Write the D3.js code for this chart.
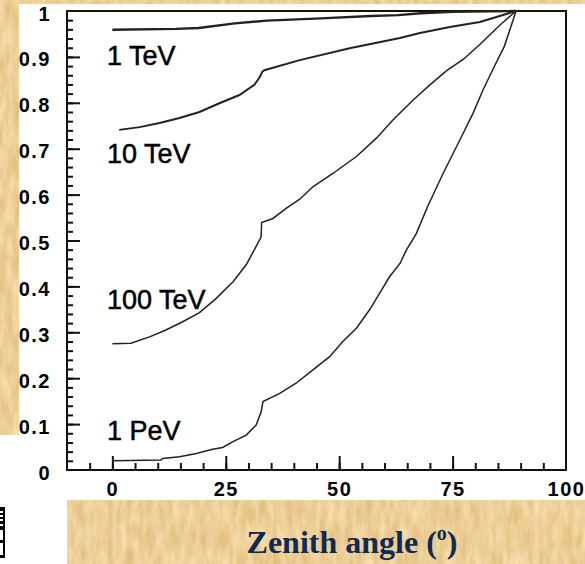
<!DOCTYPE html>
<html>
<head>
<meta charset="utf-8">
<script src="https://cdn.jsdelivr.net/npm/d3@7"></script>
<style>
  body { margin: 0; background: #fff; }
  svg { display: block; }
</style>
</head>
<body>
<div id="chart"></div>
<script>
// Curve data: zenith angle (deg) and ratio
var zenith1TeV = [0, 14, 19, 27, 34, 46, 57, 63, 68, 75, 89];
var ratio1TeV  = [0.959, 0.961, 0.963, 0.973, 0.979, 0.984, 0.989, 0.991, 0.995, 0.998, 1.0];

var zenith10TeV = [1.5, 6, 10.4, 14.8, 19.2, 23.6, 28, 31.3, 32.5, 33, 33.5, 41.3, 52.3, 63.4, 67.8, 74.4, 81, 85.4, 89];
var ratio10TeV  = [0.741, 0.747, 0.756, 0.767, 0.780, 0.799, 0.817, 0.839, 0.856, 0.867, 0.871, 0.893, 0.919, 0.941, 0.952, 0.965, 0.976, 0.989, 1.0];

var zenith100TeV = [0, 4.1, 8.2, 11.8, 15.5, 19.2, 22.9, 26.6, 29.5, 31.7, 32.8, 32.9, 35.4, 38.3, 41.3, 44.2, 48.6, 53.8, 58.2, 61.9, 66.3, 70, 73.7, 77.4, 81, 85.4, 89];
var ratio100TeV  = [0.275, 0.276, 0.290, 0.305, 0.323, 0.343, 0.374, 0.410, 0.447, 0.487, 0.508, 0.539, 0.548, 0.570, 0.590, 0.617, 0.646, 0.683, 0.723, 0.763, 0.806, 0.839, 0.870, 0.895, 0.927, 0.969, 1.0];

var zenith1PeV = [0, 10.7, 11.1, 14.8, 18.5, 22.1, 24.3, 26.6, 29.5, 31.7, 32.8, 33.2, 36.9, 40.5, 44.2, 47.9, 50.8, 53.8, 56.7, 58.9, 61.1, 63.4, 64.8, 67, 69.5, 72.9, 76.6, 79.5, 81.7, 84.2, 86.4, 89];
var ratio1PeV  = [0.020, 0.022, 0.025, 0.029, 0.036, 0.045, 0.049, 0.062, 0.076, 0.098, 0.127, 0.149, 0.167, 0.189, 0.218, 0.247, 0.280, 0.309, 0.349, 0.385, 0.421, 0.450, 0.479, 0.515, 0.574, 0.646, 0.719, 0.777, 0.828, 0.879, 0.923, 1.0];

var seriesNames = ["1 TeV", "10 TeV", "100 TeV", "1 PeV"];
var xTickLabels = [0, 25, 50, 75, 100];
var yTickLabels = [0, 0.1, 0.2, 0.3, 0.4, 0.5, 0.6, 0.7, 0.8, 0.9, 1];
var xTitle = "Zenith angle (";

var w = 585, h = 564;
var pLeft = 67, pRight = 566, pTop = 11, pBottom = 470;

var svg = d3.select("#chart").append("svg")
    .attr("width", w)
    .attr("height", h);

// parchment texture filter
var defs = svg.append("defs");
var f = defs.append("filter").attr("id", "paper")
    .attr("filterUnits", "userSpaceOnUse")
    .attr("color-interpolation-filters", "sRGB")
    .attr("x", 0).attr("y", 0).attr("width", w).attr("height", h);
f.append("feTurbulence")
    .attr("type", "fractalNoise")
    .attr("baseFrequency", "0.15 0.04")
    .attr("numOctaves", 4)
    .attr("seed", 11)
    .attr("result", "noise");
f.append("feColorMatrix")
    .attr("in", "noise")
    .attr("type", "matrix")
    .attr("values", "0.12 0 0 0 0.87  0.18 0 0 0 0.72  0.26 0 0 0 0.46  0 0 0 0 1")
    .attr("result", "tan");
f.append("feComposite")
    .attr("in", "tan")
    .attr("in2", "SourceGraphic")
    .attr("operator", "in");

var x = d3.scaleLinear().domain([-10, 100]).range([pLeft, pRight]);
var y = d3.scaleLinear().domain([0, 1]).range([pBottom, pTop]);

function styleTicks(g) {
    g.select(".domain").remove();
    g.selectAll("line").attr("stroke", "#111").attr("stroke-width", 2);
}

// x ticks (inside the frame)
svg.append("g")
    .attr("transform", "translate(0," + pBottom + ")")
    .call(d3.axisTop(x).tickValues(d3.range(-5, 100, 5)).tickSize(7).tickFormat(""))
    .call(styleTicks);
svg.append("g")
    .attr("transform", "translate(0," + pBottom + ")")
    .call(d3.axisTop(x).tickValues([0, 25, 50, 75]).tickSize(14).tickFormat(""))
    .call(styleTicks);

// x labels
svg.append("g")
    .attr("transform", "translate(0," + pBottom + ")")
    .call(d3.axisBottom(x).tickValues(xTickLabels).tickSize(0).tickPadding(8))
    .call(function(g) {
        g.select(".domain").remove();
        g.selectAll("text")
            .attr("font-family", "Liberation Sans, Arial, sans-serif")
            .attr("font-weight", "bold")
            .attr("font-size", 20)
            .attr("letter-spacing", 1.5)
            .attr("fill", "#000")
            .attr("dy", "0.92em");
    });

// y ticks (inside the frame)
svg.append("g")
    .attr("transform", "translate(" + pLeft + ",0)")
    .call(d3.axisRight(y).tickValues(d3.range(0.02, 1, 0.02)).tickSize(6).tickFormat(""))
    .call(styleTicks);
svg.append("g")
    .attr("transform", "translate(" + pLeft + ",0)")
    .call(d3.axisRight(y).tickValues(d3.range(0.1, 1, 0.1)).tickSize(13).tickFormat(""))
    .call(styleTicks);

// y labels
svg.append("g")
    .attr("transform", "translate(" + pLeft + ",0)")
    .call(d3.axisLeft(y).tickValues(yTickLabels).tickSize(0).tickPadding(16)
        .tickFormat(function(d) { return String(+d.toFixed(1)); }))
    .call(function(g) {
        g.select(".domain").remove();
        g.selectAll("text")
            .attr("font-family", "Liberation Sans, Arial, sans-serif")
            .attr("font-weight", "bold")
            .attr("font-size", 20)
            .attr("letter-spacing", 1.5)
            .attr("fill", "#000")
            .attr("dy", "0.45em");
    });

// frame
svg.append("rect")
    .attr("x", pLeft).attr("y", pTop)
    .attr("width", pRight - pLeft).attr("height", pBottom - pTop)
    .attr("fill", "none")
    .attr("stroke", "#111")
    .attr("stroke-width", 2);

// curves
var line = d3.line()
    .x(function(d) { return x(d[0]); })
    .y(function(d) { return y(d[1]); });

var curves = [
    { xs: zenith1TeV, ys: ratio1TeV, sw: 2.4 },
    { xs: zenith10TeV, ys: ratio10TeV, sw: 2 },
    { xs: zenith100TeV, ys: ratio100TeV, sw: 1.5 },
    { xs: zenith1PeV, ys: ratio1PeV, sw: 1.5 }
];
curves.forEach(function(c) {
    svg.append("path")
        .datum(d3.zip(c.xs, c.ys))
        .attr("d", line)
        .attr("fill", "none")
        .attr("stroke", "#222")
        .attr("stroke-width", c.sw);
});

// curve labels
var labelPos = [[-1.2, 0.882], [-1.2, 0.669], [-1.2, 0.351], [-1.2, 0.065]];
svg.selectAll(".lab")
    .data(seriesNames)
    .enter()
    .append("text")
    .attr("class", "lab")
    .attr("x", function(d, i) { return x(labelPos[i][0]); })
    .attr("y", function(d, i) { return y(labelPos[i][1]); })
    .attr("font-family", "Liberation Sans, Arial, sans-serif")
    .attr("font-size", 27)
    .attr("fill", "#000")
    .attr("stroke", "#000")
    .attr("stroke-width", 0.5)
    .text(function(d) { return d; });

// parchment bands (drawn over the clipped tick labels)
svg.append("rect").attr("x", 0).attr("y", 0).attr("width", w).attr("height", 4).attr("filter", "url(#paper)");
svg.append("rect").attr("x", 0).attr("y", 0).attr("width", 19).attr("height", 435).attr("filter", "url(#paper)");
svg.append("rect").attr("x", 67).attr("y", 500).attr("width", w - 67).attr("height", h - 500).attr("filter", "url(#paper)");

// small clipped icon in the lower left corner
svg.append("rect").attr("x", -4).attr("y", 507).attr("width", 9).attr("height", 51).attr("fill", "#000");
[511, 515, 519, 524].forEach(function(yy) {
    svg.append("rect").attr("x", 0).attr("y", yy).attr("width", 3).attr("height", 2).attr("fill", "#fff");
});
svg.append("rect").attr("x", 0).attr("y", 530).attr("width", 3).attr("height", 10).attr("fill", "#fff");
svg.append("rect").attr("x", 0).attr("y", 543).attr("width", 3).attr("height", 12).attr("fill", "#fff");

// axis title
var title = svg.append("text")
    .attr("x", 352)
    .attr("y", 553)
    .attr("text-anchor", "middle")
    .attr("font-family", "Liberation Serif, Times New Roman, serif")
    .attr("font-weight", "bold")
    .attr("font-size", 32)
    .attr("fill", "#0f2a55");
title.append("tspan").text(xTitle);
title.append("tspan").attr("font-size", 20).attr("dy", -13).text("o");
title.append("tspan").attr("dy", 13).text(")");
</script>
</body>
</html>
